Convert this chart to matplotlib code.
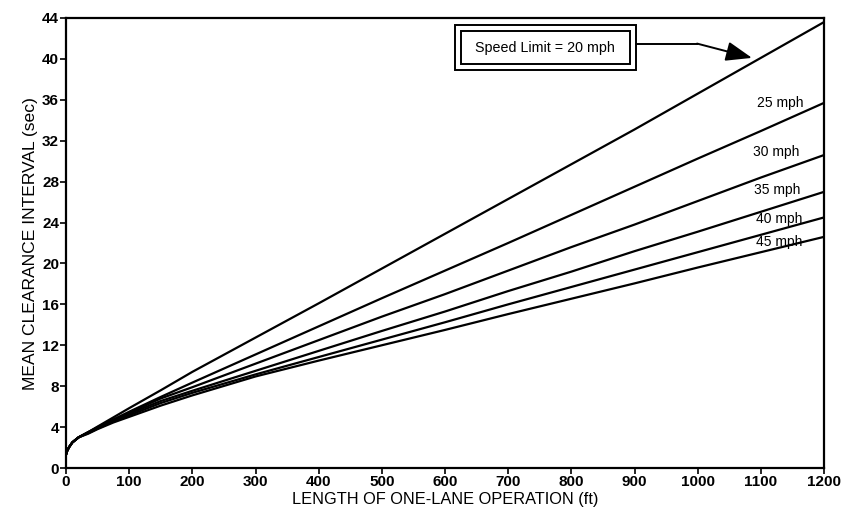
import matplotlib
matplotlib.use("Agg")
import matplotlib.pyplot as plt
from matplotlib.patches import Rectangle, FancyArrowPatch

plt.rcParams['font.family'] = ['Liberation Sans', 'DejaVu Sans']

# Length of one-lane operation (ft)
length_ft = [0, 2, 5, 10, 20, 35, 50, 75, 100, 150, 200, 300, 400, 500,
             600, 700, 800, 900, 1000, 1100, 1200]

# Mean clearance interval (sec) per speed limit
mph20 = [1.3, 1.7, 2.05, 2.5, 3.0, 3.5, 4.05, 4.95, 5.85, 7.6, 9.4, 12.75, 16.1,
         19.5, 22.9, 26.3, 29.7, 33.1, 36.6, 40.1, 43.6]
mph25 = [1.3, 1.7, 2.05, 2.5, 3.0, 3.5, 4.0, 4.75, 5.5, 6.95, 8.35, 11.1, 13.85,
         16.6, 19.3, 22.0, 24.75, 27.5, 30.25, 32.95, 35.7]
mph30 = [1.3, 1.7, 2.05, 2.5, 3.0, 3.5, 3.95, 4.7, 5.4, 6.8, 7.9, 10.2, 12.5,
         14.8, 17.0, 19.3, 21.6, 23.8, 26.1, 28.4, 30.6]
mph35 = [1.3, 1.7, 2.05, 2.5, 3.0, 3.45, 3.9, 4.65, 5.3, 6.55, 7.55, 9.5, 11.45,
         13.4, 15.3, 17.3, 19.2, 21.2, 23.1, 25.05, 27.0]
mph40 = [1.3, 1.7, 2.05, 2.5, 3.0, 3.4, 3.85, 4.55, 5.15, 6.35, 7.35, 9.15, 10.85,
         12.55, 14.25, 16.0, 17.7, 19.4, 21.1, 22.8, 24.5]
mph45 = [1.3, 1.7, 2.05, 2.5, 3.0, 3.35, 3.8, 4.45, 5.0, 6.1, 7.1, 8.95, 10.5,
         12.0, 13.5, 15.05, 16.55, 18.05, 19.6, 21.1, 22.6]

series = [mph20, mph25, mph30, mph35, mph40, mph45]
curve_labels = ["25 mph", "30 mph", "35 mph", "40 mph", "45 mph"]
label_pos = [(1130, 35.7), (1124, 30.9), (1126, 27.2), (1129, 24.3), (1129, 22.1)]
box_text = "Speed Limit = 20 mph"

x_ticks = list(range(0, 1201, 100))
y_ticks = list(range(0, 45, 4))

fig = plt.figure(figsize=(8.44, 5.18), dpi=100)
ax = fig.add_axes([66/844, 50/518, 758/844, 450/518])

for s in series:
    ax.plot(length_ft, s, color='black', lw=1.6, solid_capstyle='butt')

ax.set_xlim(0, 1200)
ax.set_ylim(0, 44)
ax.set_xticks(x_ticks)
ax.set_yticks(y_ticks)
ax.tick_params(direction='out', length=4, width=1.2, labelsize=11, pad=1)
for lab in ax.get_xticklabels() + ax.get_yticklabels():
    lab.set_fontweight('bold')
for sp in ax.spines.values():
    sp.set_linewidth(1.6)

ax.set_xlabel("LENGTH OF ONE-LANE OPERATION (ft)", fontsize=11.8, labelpad=2)
ax.set_ylabel("MEAN CLEARANCE INTERVAL (sec)", fontsize=12.6, labelpad=3)

for lab, (lx, ly) in zip(curve_labels, label_pos):
    ax.text(lx, ly, lab, fontsize=10, ha='center', va='center')

# double-framed box
ax.add_patch(Rectangle((615.8, 38.9), 902.3 - 615.8, 43.3 - 38.9,
                       fill=False, lw=1.4, ec='black', zorder=5))
ax.add_patch(Rectangle((625.3, 39.5), 892.8 - 625.3, 42.7 - 39.5,
                       fill=False, lw=1.4, ec='black', zorder=5))
ax.text(759, 41.1, box_text, fontsize=10.3, ha='center', va='center')

ax.plot([902.3, 999], [41.5, 41.5], color='black', lw=1.4)
ax.add_patch(FancyArrowPatch((999, 41.5), (1086, 40.1),
                             arrowstyle='-|>,head_length=8,head_width=3',
                             color='black', lw=1.4, mutation_scale=2.0,
                             shrinkA=0, shrinkB=0))

fig.savefig("out.png", dpi=100)
